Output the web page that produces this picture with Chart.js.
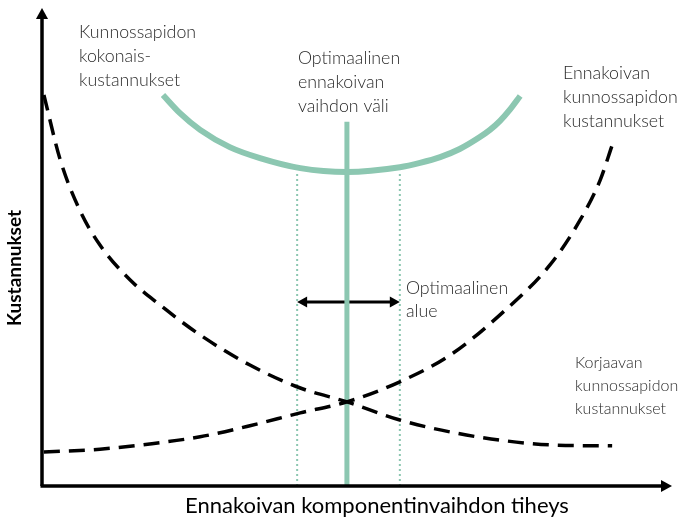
<!DOCTYPE html>
<html>
<head>
<meta charset="utf-8">
<script src="https://cdn.jsdelivr.net/npm/chart.js@4.4.1/dist/chart.umd.min.js"></script>
<style>
  html, body { margin: 0; padding: 0; background: #fff; }
  #wrap { width: 682px; height: 519px; position: relative; }
</style>
</head>
<body>
<div id="wrap"><canvas id="chart"></canvas></div>
<script>
// Korjaavan kunnossapidon kustannukset (laskeva käyrä)
const korjaavaX = [0.3, 2.9, 6.0, 9.2, 14.0, 18.7, 25.1, 33.0, 41.0, 48.4, 56.8, 64.8, 72.7, 80.6, 90.5];
const korjaavaY = [81.8, 68.2, 57.7, 50.4, 43.1, 37.9, 31.6, 25.3, 20.5, 17.6, 13.8, 11.3, 9.6, 8.6, 8.4];

// Ennakoivan kunnossapidon kustannukset (nouseva käyrä)
const ennakoivaX = [0.3, 9.2, 17.1, 25.1, 33.0, 41.0, 48.4, 56.8, 64.8, 72.7, 80.6, 85.4, 88.6, 90.5];
const ennakoivaY = [7.1, 7.7, 8.8, 10.3, 12.6, 15.3, 17.6, 21.8, 27.4, 35.8, 46.2, 55.6, 64.0, 71.3];

// Kokonaiskustannukset (U-käyrä)
const kokonaisX = [19.2, 21.9, 25.1, 29.8, 34.6, 41.0, 48.4, 56.8, 60.0, 63.2, 66.3, 69.5, 71.1, 72.7, 74.3, 75.9];
const kokonaisY = [81.8, 78.0, 74.5, 70.9, 68.6, 66.5, 65.7, 66.7, 67.6, 68.8, 70.5, 73.0, 74.5, 76.4, 78.8, 81.6];

// Optimi ja optimaalinen alue
const optimiX = 48.4;
const optimiYlä = 76.2;
const alueX = [40.5, 56.8];
const alueYlä = 65.7;
const nuoliY = 38.5;

const tekstit = {
  kokonais: ['Kunnossapidon', 'kokonais-', 'kustannukset'],
  optimi: ['Optimaalinen', 'ennakoivan', 'vaihdon väli'],
  ennakoiva: ['Ennakoivan', 'kunnossapidon', 'kustannukset'],
  alue: ['Optimaalinen', 'alue'],
  korjaava: ['Korjaavan', 'kunnossapidon', 'kustannukset'],
  xOtsikko: 'Ennakoivan komponentinvaihdon tiheys',
  yOtsikko: 'Kustannukset'
};

const vihreä = '#8cc7b1';
const pisteet = (xs, ys) => xs.map((x, i) => ({ x: x, y: ys[i] }));

// Akselit nuolineen ja tekstit
const piirrosPlugin = {
  id: 'piirros',
  afterDatasetsDraw(chart) {
    const ctx = chart.ctx;
    const xs = chart.scales.x, ys = chart.scales.y;
    const a = chart.chartArea;

    function nuolenpää(x, y, dx, dy, koko) {
      const ang = Math.atan2(dy, dx);
      ctx.beginPath();
      ctx.moveTo(x, y);
      ctx.lineTo(x - koko * Math.cos(ang) + koko * 0.55 * Math.sin(ang), y - koko * Math.sin(ang) - koko * 0.55 * Math.cos(ang));
      ctx.lineTo(x - koko * Math.cos(ang) - koko * 0.55 * Math.sin(ang), y - koko * Math.sin(ang) + koko * 0.55 * Math.cos(ang));
      ctx.closePath();
      ctx.fill();
    }

    ctx.save();
    ctx.strokeStyle = '#000';
    ctx.fillStyle = '#000';
    ctx.lineWidth = 3.5;
    ctx.setLineDash([]);
    // y-akseli
    ctx.beginPath();
    ctx.moveTo(a.left, a.bottom);
    ctx.lineTo(a.left, a.top + 8);
    ctx.stroke();
    nuolenpää(a.left, a.top, 0, -1, 11);
    // x-akseli
    ctx.beginPath();
    ctx.moveTo(a.left - 1.5, a.bottom);
    ctx.lineTo(a.right - 8, a.bottom);
    ctx.stroke();
    nuolenpää(a.right, a.bottom, 1, 0, 11);

    // optimaalisen alueen kaksoisnuoli
    const x1 = xs.getPixelForValue(alueX[0]), x2 = xs.getPixelForValue(alueX[1]);
    const yn = ys.getPixelForValue(nuoliY);
    nuolenpää(x1, yn, -1, 0, 10);
    nuolenpää(x2, yn, 1, 0, 10);

    // tekstit
    ctx.fillStyle = '#2a2a2a';
    ctx.textBaseline = 'middle';
    ctx.textAlign = 'left';
    function rivit(lines, px, py, koko, väli) {
      ctx.font = '300 ' + koko + 'px Lato, "Open Sans", sans-serif';
      lines.forEach((t, i) => ctx.fillText(t, px, py + i * väli));
    }
    rivit(tekstit.kokonais, 79, 32, 17.8, 24);
    rivit(tekstit.optimi, 298, 58, 17.8, 24);
    rivit(tekstit.ennakoiva, 563, 73, 17.8, 24);
    rivit(tekstit.alue, 406, 288, 17.8, 23);
    rivit(tekstit.korjaava, 575, 363, 16, 23);

    ctx.fillStyle = '#000';
    ctx.textAlign = 'center';
    ctx.font = '400 22px Lato, "Open Sans", sans-serif';
    ctx.fillText(tekstit.xOtsikko, 377, 506);

    ctx.translate(15, 268);
    ctx.rotate(-Math.PI / 2);
    ctx.font = 'bold 19px Lato, "Open Sans", sans-serif';
    ctx.fillText(tekstit.yOtsikko, 0, 0);
    ctx.restore();
  }
};

const ctx = document.getElementById('chart').getContext('2d');
new Chart(ctx, {
  type: 'scatter',
  data: {
    datasets: [
      {
        label: 'Korjaavan kunnossapidon kustannukset',
        data: pisteet(korjaavaX, korjaavaY),
        showLine: true,
        borderColor: '#000',
        borderWidth: 3.5,
        borderDash: [16, 9],
        pointRadius: 0,
        cubicInterpolationMode: 'monotone'
      },
      {
        label: 'Ennakoivan kunnossapidon kustannukset',
        data: pisteet(ennakoivaX, ennakoivaY),
        showLine: true,
        borderColor: '#000',
        borderWidth: 3.5,
        borderDash: [16, 9],
        pointRadius: 0,
        cubicInterpolationMode: 'monotone'
      },
      {
        label: 'Kunnossapidon kokonaiskustannukset',
        data: pisteet(kokonaisX, kokonaisY),
        showLine: true,
        borderColor: vihreä,
        borderWidth: 6,
        pointRadius: 0,
        cubicInterpolationMode: 'monotone'
      },
      {
        label: 'Optimi',
        data: [{ x: optimiX, y: 0 }, { x: optimiX, y: optimiYlä }],
        showLine: true,
        borderColor: vihreä,
        borderWidth: 5,
        pointRadius: 0
      },
      {
        label: 'Alue vasen',
        data: [{ x: alueX[0], y: 0 }, { x: alueX[0], y: alueYlä }],
        showLine: true,
        borderColor: vihreä,
        borderWidth: 2,
        borderDash: [2, 3],
        pointRadius: 0
      },
      {
        label: 'Alue oikea',
        data: [{ x: alueX[1], y: 0 }, { x: alueX[1], y: alueYlä }],
        showLine: true,
        borderColor: vihreä,
        borderWidth: 2,
        borderDash: [2, 3],
        pointRadius: 0
      },
      {
        label: 'Optimaalinen alue',
        data: [{ x: alueX[0] + 1, y: nuoliY }, { x: alueX[1] - 1, y: nuoliY }],
        showLine: true,
        borderColor: '#000',
        borderWidth: 3,
        pointRadius: 0
      }
    ]
  },
  options: {
    responsive: true,
    maintainAspectRatio: false,
    animation: false,
    layout: { padding: { left: 42, right: 10, top: 8, bottom: 33 } },
    scales: {
      x: { type: 'linear', min: 0, max: 100, display: false },
      y: { type: 'linear', min: 0, max: 100, display: false }
    },
    plugins: {
      legend: { display: false },
      tooltip: { enabled: false }
    }
  },
  plugins: [piirrosPlugin]
});
</script>
</body>
</html>
